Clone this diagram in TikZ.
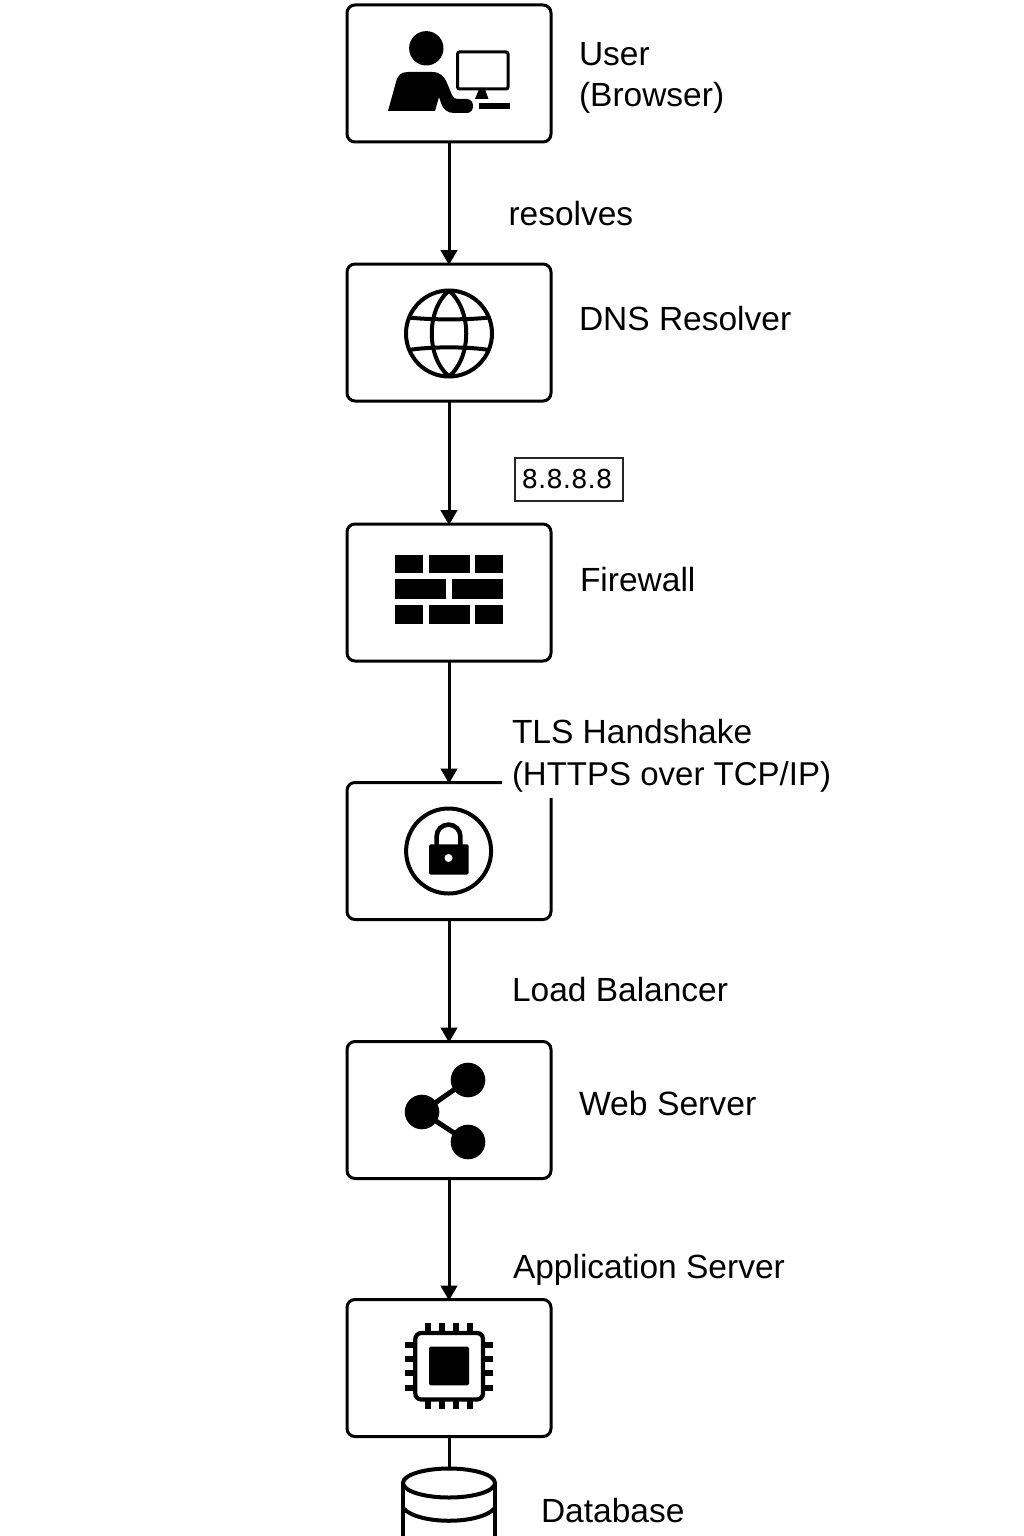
\documentclass[tikz,border=0pt]{standalone}
\usepackage{fontspec}
\setmainfont{Liberation Sans}
\usetikzlibrary{arrows.meta,shapes.geometric}
\newfontfamily\ipfont{DejaVu Sans}
\tikzset{
  box/.style={draw=black,line width=3pt,rounded corners=8pt,minimum width=204pt,minimum height=137pt,inner sep=0pt,outer sep=0pt,fill=white},
  flow/.style={draw=black,line width=3pt,-{Triangle[length=15pt,width=16.5pt]},shorten >=-1pt},
  tag/.style={anchor=base west,inner sep=0pt,outer sep=0pt,font=\fontsize{33.5}{41.5}\selectfont,align=left,text=black},
  glyph/.style={fill=black,draw=none},
  stroke/.style={draw=black,line width=4pt,fill=none},
}
\begin{document}
\begin{tikzpicture}[x=1pt,y=-1pt]
\clip (0,0) rectangle (1024,1536);
\fill[white] (0,0) rectangle (1024,1536);
% boxes
\node[box] (user) at (449,73.5) {};
\node[box] (dns) at (449,332.5) {};
\node[box] (fw) at (449,592.5) {};
\node[box] (tls) at (449,851) {};
\node[box] (web) at (449,1110) {};
\node[box] (app) at (449,1368) {};
\node[draw=black,line width=4pt,shape=ellipse,minimum width=92pt,minimum height=29pt,inner sep=0pt,outer sep=0pt] (db) at (449,1483) {};
% connectors
\draw[flow] (user.south) -- (dns.north);
\draw[flow] (dns.south) -- (fw.north);
\draw[flow] (fw.south) -- (tls.north);
\draw[flow] (tls.south) -- (web.north);
\draw[flow] (web.south) -- (app.north);
\draw[draw=black,line width=3pt] (app.south) -- (db.north);
% labels
\node[tag] (lu1) at (579,65.5) {User};
\node[tag] (lu2) at (579,106.5) {(Browser)};
\node[tag] (lres) at (508.5,225) {resolves};
\node[tag] (ldns) at (579,330) {DNS Resolver};
\node[draw=black!85,line width=1.5pt,minimum width=108pt,minimum height=43pt,inner sep=0pt,font=\ipfont\fontsize{26}{30}\selectfont] (lip) at (569,479.5) {\hspace{-4pt}8.8.8.8};
\node[tag] (lfw) at (580,591.5) {Firewall};
\fill[white] (502,715) rectangle (835,798);
\node[tag] (ltls1) at (512,743) {TLS Handshake};
\node[tag,font=\fontsize{33}{41.5}\selectfont] (ltls2) at (512,785) {(HTTPS over TCP/IP)};
\node[tag] (llb) at (512,1001) {Load Balancer};
\node[tag,font=\fontsize{33.7}{41.5}\selectfont] (lweb) at (579,1115) {Web Server};
\node[tag] (lapp) at (513,1278) {Application Server};
\node[tag] (ldb) at (541,1522) {Database};
% user icon
\fill[glyph] (426.3,48.3) circle (17.2);
\fill[glyph] (388,111) -- (396,82) .. controls (398,75) and (401,72) .. (408,72) -- (432,72)
  .. controls (440,72) and (444,76) .. (447,83) -- (452,95) .. controls (453,98) and (455,99) .. (458,99)
  -- (467,99) .. controls (475,99) and (475,113) .. (467,113) -- (454,113)
  .. controls (447,113) and (443,109) .. (441,103) -- (439,97) -- (435,111) -- cycle;
\draw[draw=black,line width=3pt,rounded corners=2pt] (457.5,52) rectangle (508,89);
\fill[glyph] (479.5,88) -- (484.5,88) -- (488.5,99) -- (475,99) -- cycle;
\fill[glyph] (479,103) rectangle (509.5,109);
% globe
\draw[stroke] (449,333.5) circle (43);
\draw[stroke] (449,290.5) .. controls (426,310) and (426,357) .. (449,376.5);
\draw[stroke] (449,290.5) .. controls (472,310) and (472,357) .. (449,376.5);
\draw[stroke] (409,317.5) .. controls (430,320) and (468,320) .. (489,317.5);
\draw[stroke] (409,350) .. controls (430,346.5) and (468,346.5) .. (489,350);
% firewall
\fill[glyph] (395,555) rectangle (423.3,572.7);
\fill[glyph] (428.7,555) rectangle (470,572.7);
\fill[glyph] (475.3,555) rectangle (502.7,572.7);
\fill[glyph] (395,579.3) rectangle (446,599);
\fill[glyph] (452,579.3) rectangle (502.7,599);
\fill[glyph] (395,605) rectangle (423.3,624);
\fill[glyph] (428.7,605) rectangle (470,624);
\fill[glyph] (475.3,605) rectangle (502.7,624);
% lock
\draw[stroke] (448.6,851) circle (42.5);
\fill[glyph,rounded corners=1.5pt] (429,844.3) rectangle (468.7,874.5);
\draw[draw=black,line width=4.6pt] (436.6,846) -- (436.6,836.5) arc[start angle=180,end angle=360,radius=11.9] -- (460.4,846);
\fill[white] (448.5,858) circle (4);
% share
\draw[draw=black,line width=5pt] (468,1080) -- (422,1112) -- (468,1142);
\fill[glyph] (468,1080) circle (17.3);
\fill[glyph] (422,1112) circle (17.3);
\fill[glyph] (468,1142) circle (17.3);
% chip
\foreach \p in {427.7,441.7,456,470.2} {
  \draw[draw=black,line width=6pt] (\p,1323.3) -- (\p,1409.3);
}
\foreach \p in {1345,1359.3,1373.3,1387.7} {
  \draw[draw=black,line width=6pt] (405,\p) -- (492.7,\p);
}
\draw[draw=black,fill=white,line width=4.2pt,rounded corners=6pt] (415.3,1333) rectangle (483,1399.5);
\fill[glyph,rounded corners=1.5pt] (429,1346.7) rectangle (469,1385.3);
% database
\draw[stroke] (db.west) -- ++(0,60);
\draw[stroke] (db.east) -- ++(0,60);
\draw[stroke] (403,1508) .. controls (418,1525) and (480,1525) .. (495,1508);
\end{tikzpicture}
\end{document}
